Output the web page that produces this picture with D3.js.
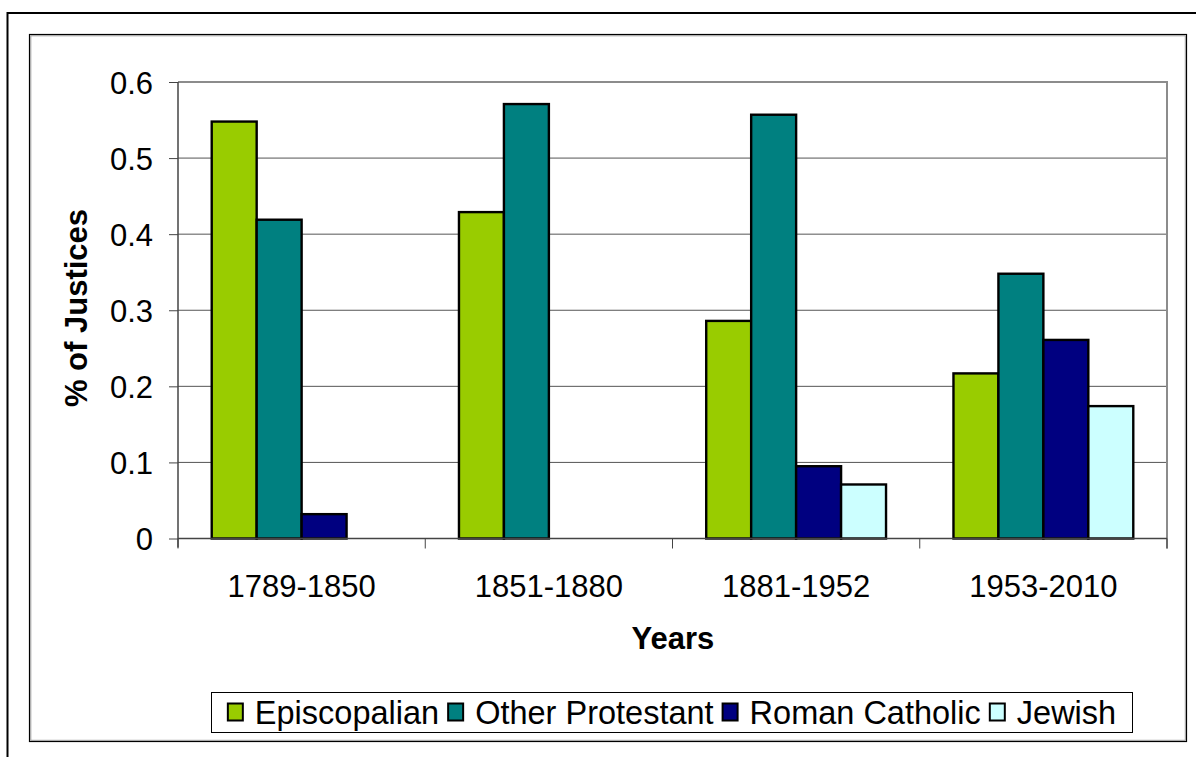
<!DOCTYPE html>
<html><head><meta charset="utf-8">
<script src="https://cdn.jsdelivr.net/npm/d3@7"></script>
<style>body{margin:0;background:#fff}svg{display:block}text{font-family:Arial,"Liberation Sans",sans-serif;fill:#000}</style>
</head><body>
<svg id="c" width="1196" height="757"></svg>
<script>
const categories = ["1789-1850","1851-1880","1881-1952","1953-2010"];
const seriesNames = ["Episcopalian","Other Protestant","Roman Catholic","Jewish"];
const episcopalian = [0.548, 0.429, 0.286, 0.217];
const otherProtestant = [0.419, 0.571, 0.557, 0.348];
const romanCatholic = [0.032, 0, 0.095, 0.261];
const jewish = [0, 0, 0.071, 0.174];
const yTicks = [0, 0.1, 0.2, 0.3, 0.4, 0.5, 0.6];
const colors = ["#99CC00","#008080","#000080","#CCFFFF"];
const seriesValues = [episcopalian, otherProtestant, romanCatholic, jewish];

const svg = d3.select("#c");
// outer frame
svg.append("line").attr("x1",7).attr("x2",1196).attr("y1",13).attr("y2",13).attr("stroke","#000").attr("stroke-width",2);
svg.append("line").attr("x1",7.5).attr("x2",7.5).attr("y1",12).attr("y2",757).attr("stroke","#000").attr("stroke-width",2);
// chart area border
svg.append("rect").attr("x",29.5).attr("y",34.5).attr("width",1157).attr("height",707).attr("fill","none").attr("stroke","#000").attr("stroke-width",1.2);
svg.append("rect").attr("x",30.8).attr("y",35.8).attr("width",1154.5).attr("height",704.5).attr("fill","none").attr("stroke","#999").attr("stroke-width",1);

const L=178, R=1167, T=82, B=538.5;
const x0 = d3.scaleBand().domain(categories).range([L,R]).paddingInner(0).paddingOuter(0);
const x1 = d3.scaleBand().domain(seriesNames).range([0,x0.bandwidth()]).paddingInner(0).paddingOuter(0.75);
const y = d3.scaleLinear().domain([0,0.6]).range([B,T]);

// gridlines
svg.append("g").selectAll("line").data(yTicks.filter(d=>d>0)).join("line")
  .attr("x1",L).attr("x2",R).attr("y1",d=>y(d)).attr("y2",d=>y(d))
  .attr("stroke",d=>d===0.6?"#8c8c8c":"#555").attr("stroke-width",d=>d===0.6?2:1);
// right border
svg.append("line").attr("x1",R).attr("x2",R).attr("y1",T-1).attr("y2",B+10).attr("stroke","#8c8c8c").attr("stroke-width",2);

// bars
const groups = svg.append("g").selectAll("g").data(categories).join("g")
  .attr("transform",c=>`translate(${x0(c)},0)`);
groups.selectAll("rect").data((c,i)=>seriesNames.map((s,j)=>({s,j,v:seriesValues[j][i]})).filter(d=>d.v>0)).join("rect")
  .attr("x",d=>x1(d.s)).attr("width",x1.bandwidth())
  .attr("y",d=>y(d.v)).attr("height",d=>B-y(d.v))
  .attr("fill",d=>colors[d.j]).attr("stroke","#000").attr("stroke-width",2.4);

// y axis
const yAxis = d3.axisLeft(y).tickValues(yTicks).tickSize(9).tickPadding(16).tickFormat(d=>d===0?"0":d3.format(".1f")(d));
const ya = svg.append("g").attr("transform",`translate(${L},0)`).call(yAxis);
ya.select(".domain").attr("stroke","#444").attr("stroke-width",1.5).attr("d",`M0,${T}V${B+9}`);
ya.selectAll(".tick line").attr("stroke","#444");
ya.selectAll("text").attr("font-size",31).attr("font-family","Arial,'Liberation Sans',sans-serif").attr("dy","0.36em");

// x axis
const xa = svg.append("g").attr("transform",`translate(0,${B})`);
xa.append("line").attr("x1",L).attr("x2",R).attr("stroke","#444").attr("stroke-width",1.5);
const bounds = categories.map(c=>x0(c)).concat([R]);
xa.selectAll("line.t").data(bounds).join("line").attr("class","t")
  .attr("x1",d=>d).attr("x2",d=>d).attr("y1",0).attr("y2",10).attr("stroke","#444");
xa.selectAll("text").data(categories).join("text")
  .attr("x",c=>x0(c)+x0.bandwidth()/2).attr("y",58).attr("text-anchor","middle").attr("font-size",31).text(c=>c);

// titles
svg.append("text").attr("x",673).attr("y",649).attr("text-anchor","middle").attr("font-size",31).attr("font-weight","bold").text("Years");
svg.append("text").attr("transform","translate(87,308) rotate(-90)").attr("text-anchor","middle").attr("font-size",31).attr("font-weight","bold").text("% of Justices");

// legend
const lg = svg.append("g");
lg.append("rect").attr("x",211.5).attr("y",692.5).attr("width",921).attr("height",40).attr("fill","#fff").attr("stroke","#000").attr("stroke-width",1);
const items = lg.selectAll("g").data(seriesNames).join("g");
items.append("rect").attr("width",15).attr("height",17).attr("y",703.5).attr("fill",(d,i)=>colors[i]).attr("stroke","#000").attr("stroke-width",2);
items.append("text").attr("y",724).attr("font-size",32.5).text(d=>d);
let widths = [];
items.each(function(){widths.push(this.querySelector("text").getComputedTextLength());});
const sw=15, gap1=12, gap2=9;
const total = d3.sum(widths)+seriesNames.length*(sw+gap1)+(seriesNames.length-1)*gap2;
let cx = 211.5+ (921-total)/2;
items.each(function(d,i){
  d3.select(this).select("rect").attr("x",cx);
  d3.select(this).select("text").attr("x",cx+sw+gap1);
  cx += sw+gap1+widths[i]+gap2;
});
</script>
</body></html>
